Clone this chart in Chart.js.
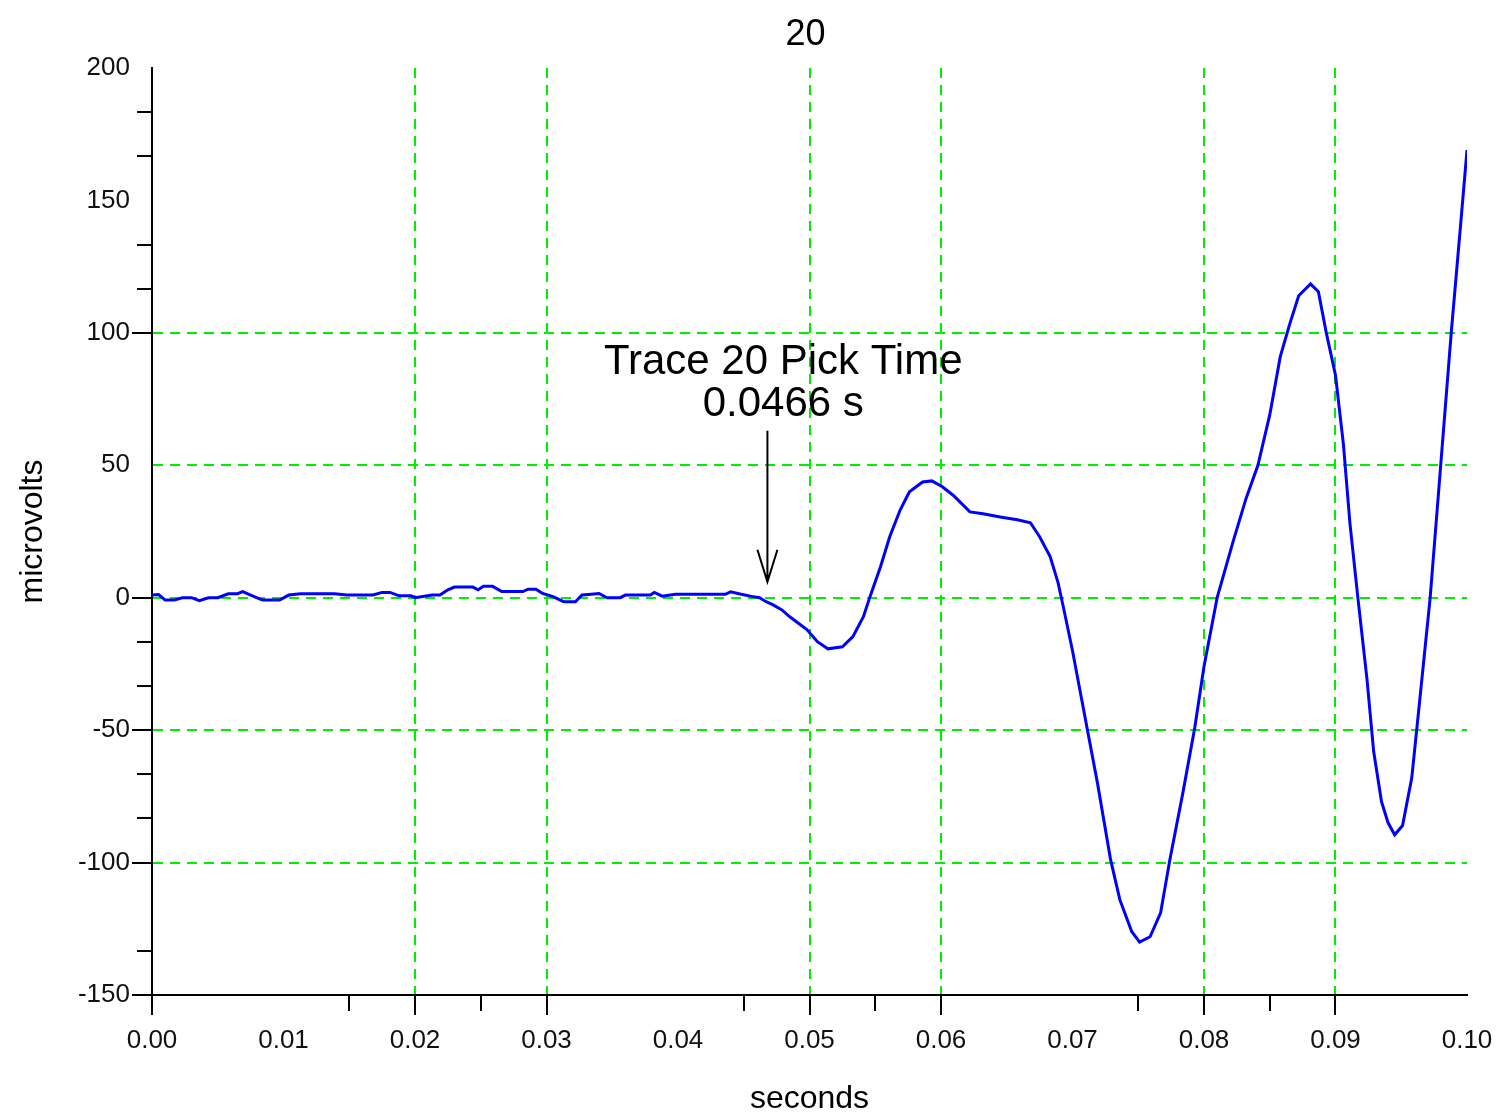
<!DOCTYPE html>
<html>
<head>
<meta charset="utf-8">
<title>Trace 20</title>
<script src="https://cdn.jsdelivr.net/npm/chart.js@4.4.1/dist/chart.umd.min.js"></script>
<style>
  html, body { margin: 0; padding: 0; background: #fff; }
  #wrap { width: 1498px; height: 1115px; }
</style>
</head>
<body>
<div id="wrap"><canvas id="trace-chart" width="1498" height="1115"></canvas></div>
<script>
// trace samples (seconds, microvolts)
const times = [
  0.0000, 0.0005, 0.0010, 0.0017, 0.0023, 0.0030, 0.0036, 0.0043, 0.0050, 0.0058,
  0.0065, 0.0069, 0.0075, 0.0084, 0.0097, 0.0104, 0.0113, 0.0139, 0.0148, 0.0168,
  0.0175, 0.0181, 0.0188, 0.0197, 0.0200, 0.0213, 0.0219, 0.0225, 0.0230, 0.0244,
  0.0248, 0.0252, 0.0259, 0.0266, 0.0282, 0.0286, 0.0292, 0.0297, 0.0305, 0.0313,
  0.0322, 0.0327, 0.0334, 0.0340, 0.0346, 0.0356, 0.0360, 0.0379, 0.0382, 0.0388,
  0.0398, 0.0436, 0.0440, 0.0448, 0.0456, 0.0462, 0.0467, 0.0472, 0.0479, 0.0485,
  0.0498, 0.0506, 0.0514, 0.0525, 0.0533, 0.0541, 0.0546, 0.0554, 0.0561, 0.0569,
  0.0576, 0.0586, 0.0593, 0.0601, 0.0609, 0.0622, 0.0632, 0.0645, 0.0658, 0.0668,
  0.0675, 0.0683, 0.0689, 0.0693, 0.0700, 0.0711, 0.0719, 0.0729, 0.0736, 0.0745,
  0.0751, 0.0759, 0.0767, 0.0774, 0.0784, 0.0793, 0.0800, 0.0810, 0.0822, 0.0832,
  0.0841, 0.0850, 0.0858, 0.0865, 0.0872, 0.0881, 0.0887, 0.0893, 0.0900, 0.0906,
  0.0911, 0.0917, 0.0924, 0.0929, 0.0935, 0.0940, 0.0945, 0.0951, 0.0958, 0.0964,
  0.0972, 0.0980, 0.0988, 0.0995, 0.1000
];
const microvolts = [
  1.0, 1.2, -0.9, -0.9, 0, 0, -1.1, 0, 0, 1.5,
  1.5, 2.3, 1.0, -0.9, -0.9, 1.0, 1.5, 1.5, 1.0, 1.0,
  2.0, 2.0, 0.7, 0.7, 0, 1.0, 1.0, 3.0, 4.0, 4.0,
  3.0, 4.3, 4.3, 2.3, 2.3, 3.2, 3.2, 1.6, 0.4, -1.5,
  -1.5, 1.0, 1.3, 1.6, 0, 0, 1.0, 1.0, 2.0, 0.6,
  1.3, 1.3, 2.2, 1.3, 0.5, 0, -1.5, -2.6, -4.6, -7.2,
  -12, -16.6, -19.3, -18.5, -14.7, -7.2, 0.4, 11.7, 23, 33.2,
  40, 43.7, 44.1, 41.9, 38.8, 32.4, 31.7, 30.5, 29.4, 28.3,
  23, 15.5, 5.7, -3.4, -20, -49, -70, -99, -114, -126,
  -130, -128, -119, -99, -73.5, -49, -26, 0, 21, 37.5,
  50, 69, 91, 103, 114, 118.5, 115.5, 100, 84, 58,
  28, 0, -31, -58, -77, -85, -89.5, -86, -68, -39,
  0, 50, 100, 140, 169
];

// axis labels and marks
const xTicks = [0, 0.01, 0.02, 0.03, 0.04, 0.05, 0.06, 0.07, 0.08, 0.09, 0.10];
const yTicks = [-150, -100, -50, 0, 50, 100, 150, 200];
const xGridLines = [0.02, 0.03, 0.05, 0.06, 0.08, 0.09];
const yGridLines = [-100, -50, 0, 50, 100];
const xMajorMarks = [0, 0.02, 0.03, 0.05, 0.06, 0.08, 0.09];
const xMinorMarks = [0.015, 0.025, 0.045, 0.055, 0.075, 0.085];
const yMajorMarks = [-150, -100, -50, 0, 100];
const yMinorMarks = [-400 / 3, -250 / 3, -200 / 3, -100 / 3, -50 / 3, 350 / 3, 400 / 3, 500 / 3, 550 / 3];

// title and pick annotation
const chartTitle = '20';
const pickTime = 0.0466;
const pickLabel = ['Trace 20 Pick Time', pickTime.toFixed(4) + ' s'];
const arrowTime = 0.0468;
const arrowFrom = 63;
const arrowTo = 6;
const labelTime = 0.0480;
const labelValues = [89, 73];

const GRID_GREEN = '#00ee00';
const FONT = '"Liberation Sans", Arial, sans-serif';

const near = (list, v) => list.some(t => Math.abs(t - v) < 1e-9);

const axisMarks = {
  id: 'axisMarks',
  afterDraw(chart) {
    const { ctx, chartArea, scales: { x, y } } = chart;
    ctx.save();
    ctx.strokeStyle = '#000';
    ctx.lineWidth = 2;
    ctx.beginPath();
    xMajorMarks.forEach(v => {
      const px = Math.round(x.getPixelForValue(v));
      ctx.moveTo(px, chartArea.bottom);
      ctx.lineTo(px, chartArea.bottom + 20);
    });
    xMinorMarks.forEach(v => {
      const px = Math.round(x.getPixelForValue(v));
      ctx.moveTo(px, chartArea.bottom);
      ctx.lineTo(px, chartArea.bottom + 16);
    });
    yMajorMarks.forEach(v => {
      const py = Math.round(y.getPixelForValue(v));
      ctx.moveTo(chartArea.left, py);
      ctx.lineTo(chartArea.left - 20, py);
    });
    yMinorMarks.forEach(v => {
      const py = Math.round(y.getPixelForValue(v));
      ctx.moveTo(chartArea.left, py);
      ctx.lineTo(chartArea.left - 15, py);
    });
    ctx.stroke();

    // pick time arrow and label
    const ax = x.getPixelForValue(arrowTime);
    const ay1 = y.getPixelForValue(arrowFrom);
    const ay2 = y.getPixelForValue(arrowTo);
    ctx.beginPath();
    ctx.moveTo(ax, ay1);
    ctx.lineTo(ax, ay2);
    ctx.moveTo(ax - 10, ay2 - 32);
    ctx.lineTo(ax, ay2);
    ctx.lineTo(ax + 10, ay2 - 32);
    ctx.stroke();

    ctx.fillStyle = '#000';
    ctx.textAlign = 'center';
    ctx.textBaseline = 'middle';
    ctx.font = '42px ' + FONT;
    const lx = x.getPixelForValue(labelTime);
    pickLabel.forEach((line, i) => {
      ctx.fillText(line, lx, y.getPixelForValue(labelValues[i]));
    });

    ctx.font = '36px ' + FONT;
    ctx.fillText(chartTitle, (chartArea.left + chartArea.right) / 2 - 4, 35);
    ctx.restore();
  }
};

new Chart(document.getElementById('trace-chart').getContext('2d'), {
  type: 'line',
  data: {
    datasets: [{
      data: times.map((t, i) => ({ x: t, y: microvolts[i] })),
      borderColor: '#0000ff',
      borderWidth: 3,
      pointRadius: 0,
      tension: 0,
      fill: false
    }]
  },
  options: {
    responsive: false,
    animation: false,
    layout: {
      padding: { left: 0, right: 31, top: 68, bottom: 0 }
    },
    plugins: {
      legend: { display: false },
      tooltip: { enabled: false },
      title: { display: false }
    },
    scales: {
      x: {
        type: 'linear',
        min: 0,
        max: 0.1,
        afterBuildTicks: (scale) => {
          scale.ticks = xTicks.map(v => ({ value: v }));
        },
        afterFit: (scale) => {
          scale.height = 120;
          scale.paddingLeft = 0;
          scale.paddingRight = 25;
        },
        ticks: {
          color: '#111',
          padding: 30,
          maxRotation: 0,
          autoSkip: false,
          font: { family: FONT, size: 26 },
          callback: (v) => Number(v).toFixed(2)
        },
        grid: {
          drawTicks: false,
          lineWidth: 2,
          color: (c) => (c.tick && near(xGridLines, c.tick.value)) ? GRID_GREEN : 'rgba(0,0,0,0)'
        },
        border: { display: true, color: '#000', width: 2, dash: [10, 7] },
        title: {
          display: true,
          text: 'seconds',
          color: '#000',
          font: { family: FONT, size: 32, lineHeight: 1 },
          padding: { top: 0, bottom: 0 }
        }
      },
      y: {
        type: 'linear',
        min: -150,
        max: 200,
        afterBuildTicks: (scale) => {
          scale.ticks = yTicks.map(v => ({ value: v }));
        },
        afterFit: (scale) => {
          scale.width = 152;
        },
        ticks: {
          color: '#111',
          padding: 22,
          autoSkip: false,
          font: { family: FONT, size: 26 },
          callback: (v) => String(v)
        },
        grid: {
          drawTicks: false,
          lineWidth: 2,
          color: (c) => (c.tick && near(yGridLines, c.tick.value)) ? GRID_GREEN : 'rgba(0,0,0,0)'
        },
        border: { display: true, color: '#000', width: 2, dash: [10, 7] },
        title: {
          display: true,
          text: 'microvolts',
          color: '#000',
          font: { family: FONT, size: 32 },
          padding: { top: 14, bottom: 0 }
        }
      }
    }
  },
  plugins: [axisMarks]
});
</script>
</body>
</html>
